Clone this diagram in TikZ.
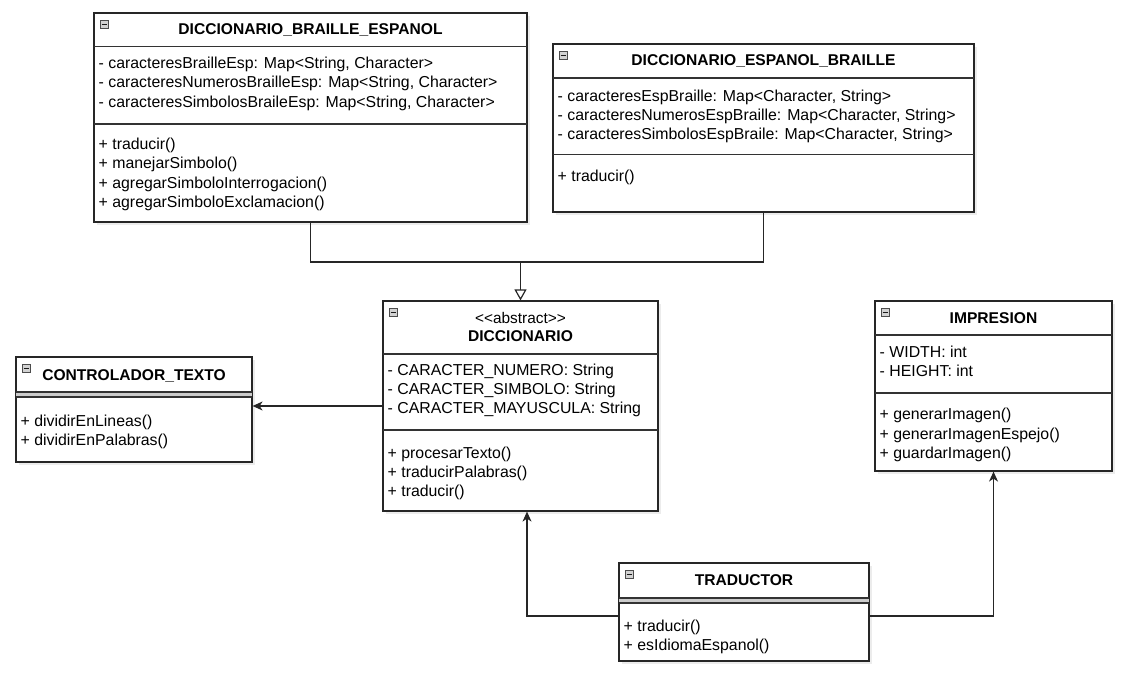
\documentclass[tikz,border=0pt]{standalone}
\usepackage{fontspec}
\setmainfont{Liberation Sans}[Ligatures=TeXOff]
\usetikzlibrary{arrows.meta,shadows}
\begin{document}
\begin{tikzpicture}[x=1pt,y=-1pt]
            \tikzstyle{classbox}=[draw=black!85,line width=1.2pt,fill=white,inner sep=0pt,drop shadow={opacity=0.15,shadow xshift=3pt,shadow yshift=-3pt}]
            \tikzstyle{divider}=[draw=black!80,line width=1.2pt]
            \tikzstyle{title}=[inner sep=0pt,text height=11pt,text depth=3pt,font=\fontsize{15.6}{19}\selectfont\bfseries]
            \tikzstyle{stereo}=[inner sep=0pt,text height=11pt,text depth=3pt,font=\fontsize{15.4}{19}\selectfont]
            \tikzstyle{member}=[anchor=west,inner sep=0pt,text height=11pt,text depth=3pt,font=\fontsize{15.85}{19}\selectfont]
            \tikzstyle{icon}=[fill=gray!35,draw=gray!60!black,line width=0.8pt]
            \tikzstyle{line}=[draw=black!85,line width=1.2pt]
            \tikzstyle{assoc}=[line,-{Stealth[length=10pt,width=9pt,inset=3pt]}]
            \tikzstyle{inherit}=[line,-{Triangle[open,length=11pt,width=12pt]}]
            \useasboundingbox (0,0) rectangle (1131,680);
            % class boxes
            \node[classbox,minimum width=433pt,minimum height=209pt] (dbe) at (310.5,117.5) {};
            \node[classbox,minimum width=421pt,minimum height=168pt] (deb) at (763.5,128) {};
            \node[classbox,minimum width=275pt,minimum height=210pt] (dic) at (520.5,406) {};
            \node[classbox,minimum width=236pt,minimum height=105pt] (ctrl) at (134,409.5) {};
            \node[classbox,minimum width=237pt,minimum height=170pt] (imp) at (993.5,386) {};
            \node[classbox,minimum width=250pt,minimum height=98pt] (tra) at (744,612) {};
            % compartments
            \draw[divider] (94,46.5) -- (527,46.5);
            \draw[divider] (94,124) -- (527,124);
            \draw[divider] (553,78) -- (974,78);
            \draw[divider] (553,154.5) -- (974,154.5);
            \draw[divider] (383,354) -- (658,354);
            \draw[divider] (383,430) -- (658,430);
            \fill[gray!40] (16,392) rectangle (252,397);
            \draw[divider] (16,392) -- (252,392);
            \draw[divider] (16,397) -- (252,397);
            \draw[divider] (875,335) -- (1112,335);
            \draw[divider] (875,393) -- (1112,393);
            \fill[gray!40] (619,598) rectangle (869,603);
            \draw[divider] (619,598) -- (869,598);
            \draw[divider] (619,603) -- (869,603);
            % collapse icons
            \filldraw[icon] (100,20) rectangle (108,28);
            \draw[gray!20!black,line width=0.9pt] (101.5,24) -- (106.5,24);
            \filldraw[icon] (559,51) rectangle (567,59);
            \draw[gray!20!black,line width=0.9pt] (560.5,55) -- (565.5,55);
            \filldraw[icon] (389,308) rectangle (397,316);
            \draw[gray!20!black,line width=0.9pt] (390.5,312) -- (395.5,312);
            \filldraw[icon] (22,364) rectangle (30,372);
            \draw[gray!20!black,line width=0.9pt] (23.5,368) -- (28.5,368);
            \filldraw[icon] (881,308) rectangle (889,316);
            \draw[gray!20!black,line width=0.9pt] (882.5,312) -- (887.5,312);
            \filldraw[icon] (625,570) rectangle (633,578);
            \draw[gray!20!black,line width=0.9pt] (626.5,574) -- (631.5,574);
            % DICCIONARIO_BRAILLE_ESPANOL
            \node[title] (dbe-title) at (310.5,30) {DICCIONARIO\_BRAILLE\_ESPANOL};
            \node[member] (dbe-a1) at (98.5,64.5) {- caracteresBrailleEsp: Map<String, Character>};
            \node[member] (dbe-a2) at (98.5,83.5) {- caracteresNumerosBrailleEsp: Map<String, Character>};
            \node[member] (dbe-a3) at (98.5,103) {- caracteresSimbolosBraileEsp: Map<String, Character>};
            \node[member] (dbe-m1) at (98.5,145) {+ traducir()};
            \node[member] (dbe-m2) at (98.5,164.5) {+ manejarSimbolo()};
            \node[member] (dbe-m3) at (98.5,184) {+ agregarSimboloInterrogacion()};
            \node[member] (dbe-m4) at (98.5,203) {+ agregarSimboloExclamacion()};
            % DICCIONARIO_ESPANOL_BRAILLE
            \node[title] (deb-title) at (763.5,61) {DICCIONARIO\_ESPANOL\_BRAILLE};
            \node[member] (deb-a1) at (557.5,97) {- caracteresEspBraille: Map<Character, String>};
            \node[member] (deb-a2) at (557.5,116) {- caracteresNumerosEspBraille: Map<Character, String>};
            \node[member] (deb-a3) at (557.5,135) {- caracteresSimbolosEspBraile: Map<Character, String>};
            \node[member] (deb-m1) at (557.5,177.5) {+ traducir()};
            % DICCIONARIO
            \node[stereo] (dic-stereo) at (520.5,319) {<<abstract>>};
            \node[title] (dic-title) at (520.5,337) {DICCIONARIO};
            \node[member] (dic-a1) at (387.5,371.5) {- CARACTER\_NUMERO: String};
            \node[member] (dic-a2) at (387.5,390.5) {- CARACTER\_SIMBOLO: String};
            \node[member] (dic-a3) at (387.5,409.5) {- CARACTER\_MAYUSCULA: String};
            \node[member] (dic-m1) at (387.5,454) {+ procesarTexto()};
            \node[member] (dic-m2) at (387.5,473) {+ traducirPalabras()};
            \node[member] (dic-m3) at (387.5,492) {+ traducir()};
            % CONTROLADOR_TEXTO
            \node[title] (ctrl-title) at (134,376) {CONTROLADOR\_TEXTO};
            \node[member] (ctrl-m1) at (20.5,422) {+ dividirEnLineas()};
            \node[member] (ctrl-m2) at (20.5,441) {+ dividirEnPalabras()};
            % IMPRESION
            \node[title] (imp-title) at (993.5,319) {IMPRESION};
            \node[member] (imp-a1) at (879.5,353.5) {- WIDTH: int};
            \node[member] (imp-a2) at (879.5,372.5) {- HEIGHT: int};
            \node[member] (imp-m1) at (879.5,415.5) {+ generarImagen()};
            \node[member] (imp-m2) at (879.5,435) {+ generarImagenEspejo()};
            \node[member] (imp-m3) at (879.5,454.5) {+ guardarImagen()};
            % TRADUCTOR
            \node[title] (tra-title) at (744,581) {TRADUCTOR};
            \node[member] (tra-m1) at (623.5,627) {+ traducir()};
            \node[member] (tra-m2) at (623.5,646) {+ esIdiomaEspanol()};
            % relations
            \coordinate (join) at (520.5,262);
            \draw[line] (dbe.south) |- (join);
            \draw[line] (deb.south) |- (join);
            \draw[inherit] (join) -- (dic.north);
            \draw[assoc] (dic.west) -- (dic.west -| ctrl.east);
            \draw[assoc] ([yshift=-4pt]tra.west) -| ([xshift=6.5pt]dic.south);
            \draw[assoc] ([yshift=-4pt]tra.east) -| (imp.south);
\end{tikzpicture}
\end{document}
